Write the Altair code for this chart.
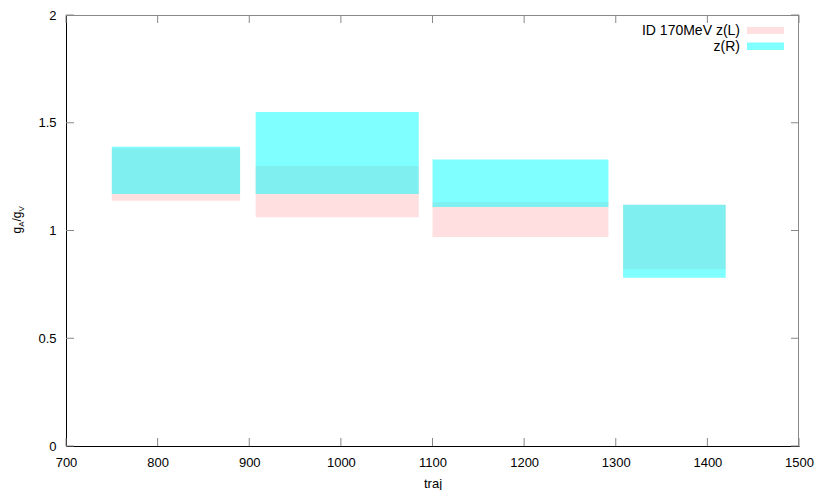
import altair as alt
import pandas as pd

# Data
traj_start = [750, 907, 1100, 1308]
traj_end = [890, 1085, 1292, 1420]
zL_low = [1.138, 1.061, 0.970, 0.820]
zL_high = [1.380, 1.299, 1.131, 1.120]
zR_low = [1.169, 1.169, 1.109, 0.781]
zR_high = [1.389, 1.550, 1.330, 1.120]

x_ticks = [700, 800, 900, 1000, 1100, 1200, 1300, 1400, 1500]
y_ticks = [0, 0.5, 1, 1.5, 2]

W, H = 733, 431
FONT = "Liberation Sans"
PINK = "#ffc0c0"
CYAN = "#00ffff"

dfL = pd.DataFrame({"x": traj_start, "x2": traj_end, "y": zL_low, "y2": zL_high})
dfR = pd.DataFrame({"x": traj_start, "x2": traj_end, "y": zR_low, "y2": zR_high})
dfx = pd.DataFrame({"t": x_ticks})
dfy = pd.DataFrame({"t": y_ticks})
one = pd.DataFrame({"a": [0]})

xs = alt.Scale(domain=[700, 1500], nice=False, zero=False)
ys = alt.Scale(domain=[0, 2], nice=False)

xaxis = alt.Axis(values=x_ticks, ticks=False, grid=False, domainColor="black",
                 labelFont=FONT, labelFontSize=13, labelColor="black", labelPadding=10,
                 labelExpr="datum.value + ''",
                 title="traj", titleFont=FONT, titleFontSize=13, titleFontWeight="normal",
                 titleColor="black", titlePadding=8, labelFlush=False)
yaxis = alt.Axis(values=y_ticks, ticks=False, grid=False, domainColor="black",
                 labelFont=FONT, labelFontSize=13, labelColor="black", labelPadding=10,
                 labelExpr="datum.value + ''", title=None)

rL = alt.Chart(dfL).mark_rect(color=PINK, opacity=0.5).encode(
    x=alt.X("x:Q", scale=xs, axis=xaxis), x2="x2", y=alt.Y("y:Q", scale=ys, axis=yaxis), y2="y2")
rR = alt.Chart(dfR).mark_rect(color=CYAN, opacity=0.5).encode(
    x=alt.X("x:Q", scale=xs), x2="x2", y=alt.Y("y:Q", scale=ys), y2="y2")

TC = "#888888"
tb = alt.Chart(dfx).mark_rule(color=TC).encode(x=alt.X("t:Q", scale=xs), y=alt.value(H), y2=alt.value(H - 8))
tt = alt.Chart(dfx).mark_rule(color=TC).encode(x=alt.X("t:Q", scale=xs), y=alt.value(0), y2=alt.value(8))
tl = alt.Chart(dfy).mark_rule(color=TC).encode(y=alt.Y("t:Q", scale=ys), x=alt.value(0), x2=alt.value(8))
tr = alt.Chart(dfy).mark_rule(color=TC).encode(y=alt.Y("t:Q", scale=ys), x=alt.value(W), x2=alt.value(W - 8))

top = alt.Chart(one).mark_rule(color=TC).encode(x=alt.value(0), x2=alt.value(W), y=alt.value(0.5))
right = alt.Chart(one).mark_rule(color=TC).encode(x=alt.value(W - 0.5), y=alt.value(0), y2=alt.value(H))

# legend
lt1 = alt.Chart(one).mark_text(text="ID 170MeV z(L)", align="right", baseline="middle",
                               font=FONT, fontSize=14, color="black").encode(x=alt.value(674), y=alt.value(15.5))
lt2 = alt.Chart(one).mark_text(text="z(R)", align="right", baseline="middle",
                               font=FONT, fontSize=14, color="black").encode(x=alt.value(674), y=alt.value(31.5))
ls1 = alt.Chart(one).mark_rect(color=PINK, opacity=0.5).encode(
    x=alt.value(681), x2=alt.value(718), y=alt.value(12), y2=alt.value(19))
ls2 = alt.Chart(one).mark_rect(color=CYAN, opacity=0.5).encode(
    x=alt.value(681), x2=alt.value(718), y=alt.value(27.5), y2=alt.value(35))

# y title g_A/g_V with subscripts (rotated)
def seg(txt, size, xpos, ypos):
    return alt.Chart(one).mark_text(text=txt, angle=270, align="left", baseline="alphabetic",
                                    font=FONT, fontSize=size, color="black").encode(
        x=alt.value(xpos), y=alt.value(ypos))

yt = [seg("g", 12, -45, 218.5), seg("A", 8, -42, 211.8), seg("/g", 12, -45, 206.5), seg("V", 8, -42, 196.5)]

chart = alt.layer(rL, rR, tb, tt, tl, tr, top, right, lt1, lt2, ls1, ls2, *yt).properties(
    width=W, height=H, autosize=alt.AutoSizeParams(type="none"),
    padding={"left": 58, "top": 7, "right": 23, "bottom": 44},
    background="white",
).configure_view(stroke=None)

chart.save("out.html", embed_options={"renderer": "svg", "actions": False})
